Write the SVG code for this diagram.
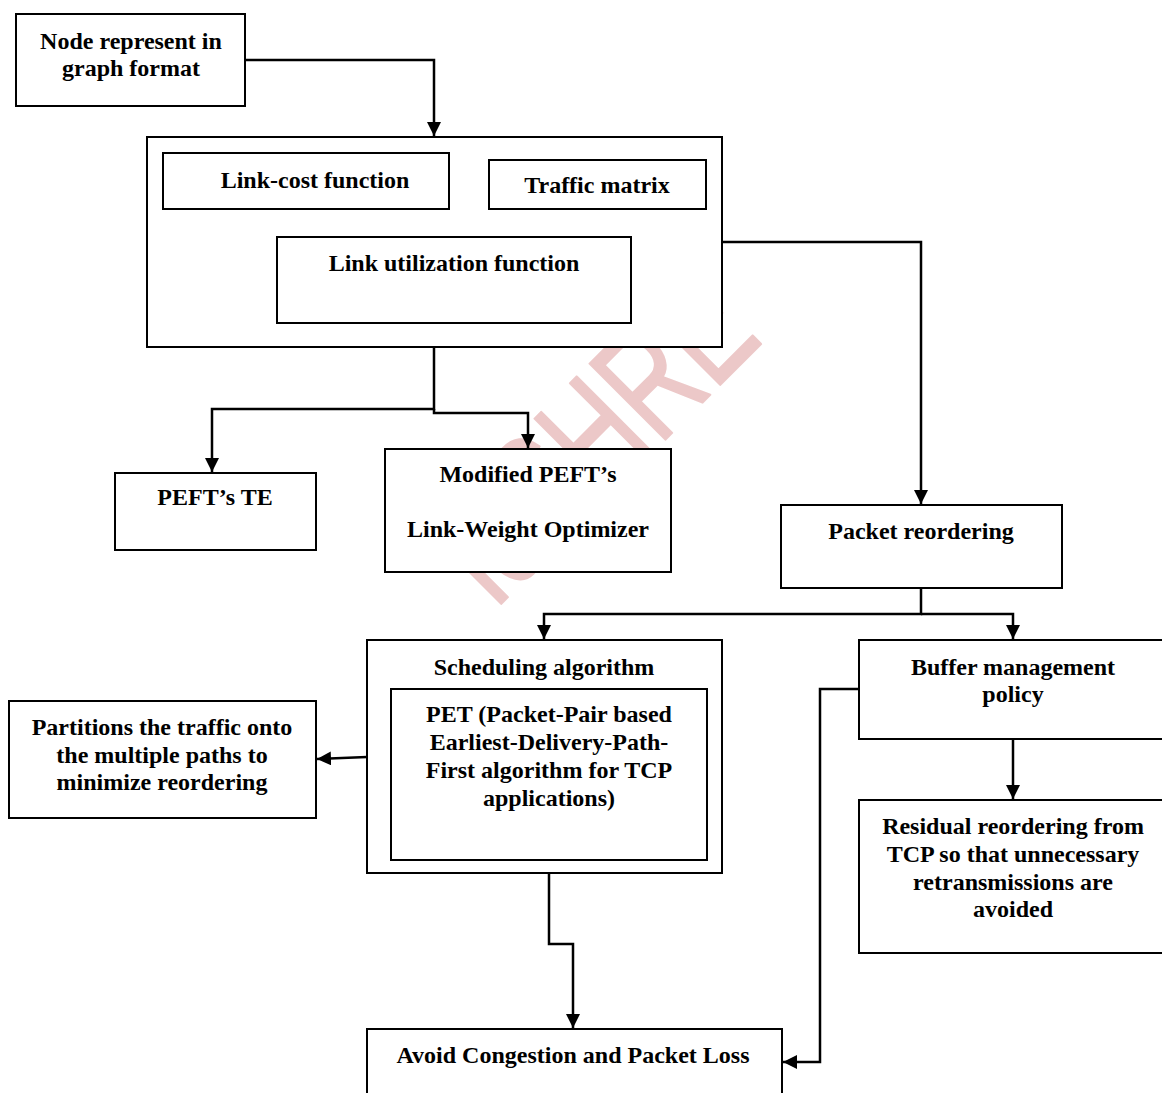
<svg xmlns="http://www.w3.org/2000/svg" width="1162" height="1093" viewBox="0 0 1162 1093">
<defs>
<marker id="ah" viewBox="0 0 14 14" refX="14" refY="7" markerWidth="14" markerHeight="14" markerUnits="userSpaceOnUse" orient="auto">
<path d="M0,0 L14,7 L0,14 Z" fill="#000"/>
</marker>
<style>
.box{fill:#fff;stroke:#000;stroke-width:2}
.t{font-family:"Liberation Serif","Times New Roman",serif;font-weight:bold;font-size:24px;fill:#000;text-anchor:middle}
.c{fill:none;stroke:#000;stroke-width:2.5}
.wm{font-family:"Liberation Sans",Arial,sans-serif;font-size:156px;fill:#ECC8C8;stroke:#ECC8C8;stroke-width:2;stroke-linejoin:round}
</style>
</defs>
<rect width="1162" height="1093" fill="#fff"/>
<text class="wm" transform="translate(494,611) rotate(-45) scale(0.69,1)">IJSHRE</text>
<g id="connectors">
<path class="c" d="M245,60 H434 V136" marker-end="url(#ah)"/>
<path class="c" d="M434,347 V409 H212 V472" marker-end="url(#ah)"/>
<path class="c" d="M434,409 V413 H528 V448" marker-end="url(#ah)"/>
<path class="c" d="M722,242 H921 V504" marker-end="url(#ah)"/>
<path class="c" d="M921,588 V614 H544 V639" marker-end="url(#ah)"/>
<path class="c" d="M921,614 H1013 V639" marker-end="url(#ah)"/>
<path class="c" d="M367,757 L317,759" marker-end="url(#ah)"/>
<path class="c" d="M1013,739 V799" marker-end="url(#ah)"/>
<path class="c" d="M859,689 H820 V1062 H783" marker-end="url(#ah)"/>
<path class="c" d="M549,860 V944 H573 V1028" marker-end="url(#ah)"/>
</g>
<g id="node-graph">
<rect class="box" x="16" y="14" width="229" height="92"/>
<text class="t" x="131" y="49">Node represent in</text>
<text class="t" x="131" y="76">graph format</text>
</g>
<g id="node-group">
<rect class="box" x="147" y="137" width="575" height="210"/>
</g>
<g id="node-linkcost">
<rect class="box" x="163" y="153" width="286" height="56"/>
<text class="t" x="315" y="188">Link-cost function</text>
</g>
<g id="node-traffic">
<rect class="box" x="489" y="160" width="217" height="49"/>
<text class="t" x="597" y="193">Traffic matrix</text>
</g>
<g id="node-linkutil">
<rect class="box" x="277" y="237" width="354" height="86"/>
<text class="t" x="454" y="271">Link utilization function</text>
</g>
<g id="node-pefte">
<rect class="box" x="115" y="473" width="201" height="77"/>
<text class="t" x="215" y="505">PEFT’s TE</text>
</g>
<g id="node-modified">
<rect class="box" x="385" y="449" width="286" height="123"/>
<text class="t" x="528" y="482">Modified PEFT’s</text>
<text class="t" x="528" y="537">Link-Weight Optimizer</text>
</g>
<g id="node-reorder">
<rect class="box" x="781" y="505" width="281" height="83"/>
<text class="t" x="921" y="539">Packet reordering</text>
</g>
<g id="node-scheduling">
<rect class="box" x="367" y="640" width="355" height="233"/>
<text class="t" x="544" y="675">Scheduling algorithm</text>
</g>
<g id="node-pet">
<rect class="box" x="391" y="689" width="316" height="171"/>
<text class="t" x="549" y="722">PET (Packet-Pair based</text>
<text class="t" x="549" y="750">Earliest-Delivery-Path-</text>
<text class="t" x="549" y="778">First algorithm for TCP</text>
<text class="t" x="549" y="806">applications)</text>
</g>
<g id="node-partitions">
<rect class="box" x="9" y="701" width="307" height="117"/>
<text class="t" x="162" y="735">Partitions the traffic onto</text>
<text class="t" x="162" y="763">the multiple paths to</text>
<text class="t" x="162" y="790">minimize reordering</text>
</g>
<g id="node-buffer">
<rect class="box" x="859" y="640" width="310" height="99"/>
<text class="t" x="1013" y="675">Buffer management</text>
<text class="t" x="1013" y="702">policy</text>
</g>
<g id="node-residual">
<rect class="box" x="859" y="800" width="310" height="153"/>
<text class="t" x="1013" y="834">Residual reordering from</text>
<text class="t" x="1013" y="862">TCP so that unnecessary</text>
<text class="t" x="1013" y="890">retransmissions are</text>
<text class="t" x="1013" y="917">avoided</text>
</g>
<g id="node-avoid">
<rect class="box" x="367" y="1029" width="415" height="80"/>
<text class="t" x="573" y="1063">Avoid Congestion and Packet Loss</text>
</g>
</svg>
